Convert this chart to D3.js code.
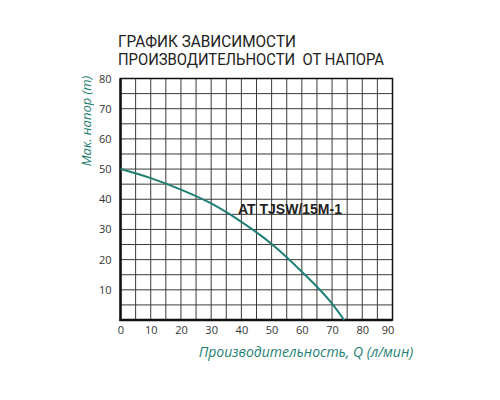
<!DOCTYPE html>
<html>
<head>
<meta charset="utf-8">
<script src="https://cdn.jsdelivr.net/npm/d3@7"></script>
<style>
  body { margin: 0; background: #fff; }
  svg { display: block; }
</style>
</head>
<body>
<div id="chart"></div>
<script>
// chart data
var titleLines = ["ГРАФИК ЗАВИСИМОСТИ", "ПРОИЗВОДИТЕЛЬНОСТИ  ОТ НАПОРА"];
var titleWidths = [178, 266];
var flowQ = [0, 10, 20, 30, 40, 50, 60, 70, 74];
var headH = [50, 47, 43.2, 38.6, 32.5, 25.2, 16, 5.4, 0];
var xTicks = [0, 10, 20, 30, 40, 50, 60, 70, 80, 90];
var yTicks = [10, 20, 30, 40, 50, 60, 70, 80];
var modelName = "AT TJSW/15M-1";

var teal = "#1f7f73";

var svg = d3.select("#chart").append("svg")
    .attr("width", 500)
    .attr("height", 400);

var xScale = d3.scaleLinear().domain([0, 90]).range([120.5, 392.5]);
var yScale = d3.scaleLinear().domain([0, 80]).range([320, 78.5]);

// title (squeezed a bit, the original face is narrower)
svg.append("g").selectAll("text").data(titleLines).enter()
  .append("text")
  .attr("x", 118)
  .attr("y", function(d, i) { return 46.5 + i * 18.8; })
  .attr("xml:space", "preserve")
  .attr("textLength", function(d, i) { return titleWidths[i]; })
  .attr("lengthAdjust", "spacingAndGlyphs")
  .style("white-space", "pre")
  .style("font", "16.5px Roboto")
  .style("fill", "#222")
  .text(function(d) { return d; });

// grid, every 5 units
var grid = svg.append("g").attr("class", "grid");
grid.selectAll(".vline").data(d3.range(5, 90, 5)).enter()
  .append("line")
  .attr("x1", function(d) { return xScale(d); })
  .attr("x2", function(d) { return xScale(d); })
  .attr("y1", yScale(0)).attr("y2", yScale(80))
  .style("stroke", "#3a3a3a").style("stroke-width", 1);
grid.selectAll(".hline").data(d3.range(5, 80, 5)).enter()
  .append("line")
  .attr("y1", function(d) { return yScale(d); })
  .attr("y2", function(d) { return yScale(d); })
  .attr("x1", xScale(0)).attr("x2", xScale(90))
  .style("stroke", "#3a3a3a").style("stroke-width", 1);

// frame
svg.append("rect")
  .attr("x", xScale(0)).attr("y", yScale(80))
  .attr("width", xScale(90) - xScale(0))
  .attr("height", yScale(0) - yScale(80))
  .style("fill", "none").style("stroke", "#111").style("stroke-width", 1.5);
svg.append("line")
  .attr("x1", xScale(0)).attr("x2", xScale(0))
  .attr("y1", yScale(0) + 1).attr("y2", yScale(80))
  .style("stroke", "#111").style("stroke-width", 2.5);
svg.append("line")
  .attr("x1", xScale(0) - 1).attr("x2", xScale(90))
  .attr("y1", yScale(0)).attr("y2", yScale(0))
  .style("stroke", "#111").style("stroke-width", 2.5);

// tick labels
var xAxis = d3.axisBottom(xScale).tickValues(xTicks).tickSize(0).tickPadding(6);
var yAxis = d3.axisLeft(yScale).tickValues(yTicks).tickSize(0).tickPadding(9);

var gx = svg.append("g").attr("transform", "translate(0," + yScale(0) + ")").call(xAxis);
var gy = svg.append("g").attr("transform", "translate(" + xScale(0) + ",0)").call(yAxis);
[gx, gy].forEach(function(g) {
  g.select(".domain").remove();
  g.selectAll("text").style("font", "11px 'Open Sans'").style("fill", "#333");
});
gx.selectAll("text").filter(function(d) { return d === 90; }).attr("dx", -5);

// axis titles
svg.append("text")
  .attr("transform", "translate(91," + 121 + ") rotate(-90)")
  .attr("text-anchor", "middle")
  .style("font", "italic 13px 'Open Sans'")
  .style("fill", teal)
  .text("Мак. напор (m)");

svg.append("text")
  .attr("x", 306).attr("y", 357)
  .attr("text-anchor", "middle")
  .style("font", "italic 14px 'Open Sans'")
  .style("fill", teal)
  .text("Производительность, Q (л/мин)");

// curve
var curveData = flowQ.map(function(q, i) { return {q: q, h: headH[i]}; });
var line = d3.line()
  .x(function(d) { return xScale(d.q); })
  .y(function(d) { return yScale(d.h); })
  .curve(d3.curveMonotoneX);

svg.append("path")
  .datum(curveData)
  .attr("d", line)
  .style("fill", "none")
  .style("stroke", teal)
  .style("stroke-width", 2);

// model label
svg.append("text")
  .attr("x", 238).attr("y", 213.5)
  .style("font", "bold 14px 'Liberation Sans'")
  .style("fill", "#222")
  .text(modelName);
</script>
</body>
</html>
